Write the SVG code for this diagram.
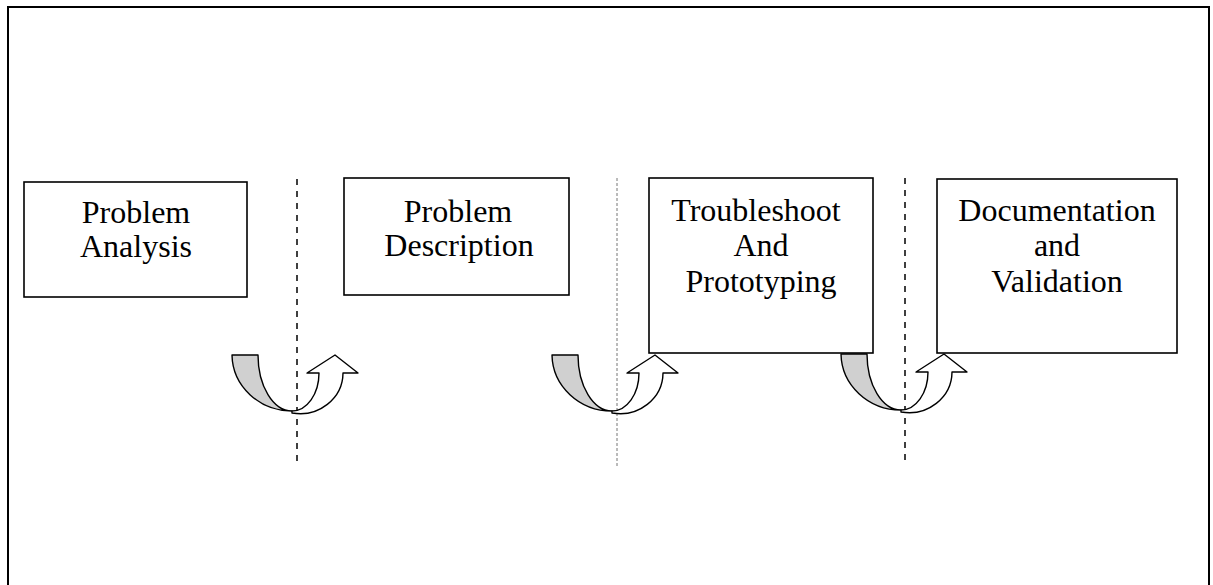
<svg xmlns="http://www.w3.org/2000/svg" xmlns:xlink="http://www.w3.org/1999/xlink" width="1213" height="585" viewBox="0 0 1213 585">
<style>
.frame{fill:none;stroke:#000;stroke-width:2}
.box{fill:#fff;stroke:#000;stroke-width:1.6}
.lbl{font-family:"Liberation Serif","Times New Roman",serif;font-size:32px;fill:#000;text-anchor:middle}
.dash{stroke:#000;stroke-width:1.5;stroke-dasharray:6,6;fill:none}
.dashg{stroke:#777;stroke-width:1;stroke-dasharray:3,2;fill:none}
.back{fill:#d0d0d0;stroke:#000;stroke-width:1.4;stroke-linejoin:round}
.front{fill:#fff;stroke:#000;stroke-width:1.4;stroke-linejoin:round}
</style>
<defs>
<g id="curved">
<path class="back" d="M 232,355 L 258,355 A 34,56 0 0 0 292,411 A 60,57 0 0 1 232,355 Z"/>
<path class="front" d="M 292,413 A 43,41 0 0 0 343,373 L 358,373 L 335,355 L 307,373 L 319,373 A 27,38 0 0 1 292,411 Z"/>
</g>
</defs>
<rect class="frame" x="8" y="7" width="1201" height="600"/>
<g id="connectors">
<line class="dash" x1="297" y1="179" x2="297" y2="466"/>
<line class="dashg" x1="617" y1="178" x2="617" y2="466"/>
<line class="dash" x1="905" y1="178" x2="905" y2="466"/>
<use xlink:href="#curved"/>
<use xlink:href="#curved" transform="translate(320,0)"/>
<use xlink:href="#curved" transform="translate(609,-1)"/>
</g>
<g id="node-analysis">
<rect class="box" x="24" y="182" width="223" height="115"/>
<text class="lbl" x="136" y="223">Problem</text>
<text class="lbl" x="136" y="257">Analysis</text>
</g>
<g id="node-description">
<rect class="box" x="344" y="178" width="225" height="117"/>
<text class="lbl" x="458" y="222">Problem</text>
<text class="lbl" x="459" y="256">Description</text>
</g>
<g id="node-troubleshoot">
<rect class="box" x="649" y="178" width="224" height="175"/>
<text class="lbl" x="756" y="221">Troubleshoot</text>
<text class="lbl" x="761" y="256">And</text>
<text class="lbl" x="761" y="292">Prototyping</text>
</g>
<g id="node-documentation">
<rect class="box" x="937" y="179" width="240" height="174"/>
<text class="lbl" x="1057" y="221">Documentation</text>
<text class="lbl" x="1057" y="256">and</text>
<text class="lbl" x="1057" y="292">Validation</text>
</g>
</svg>
